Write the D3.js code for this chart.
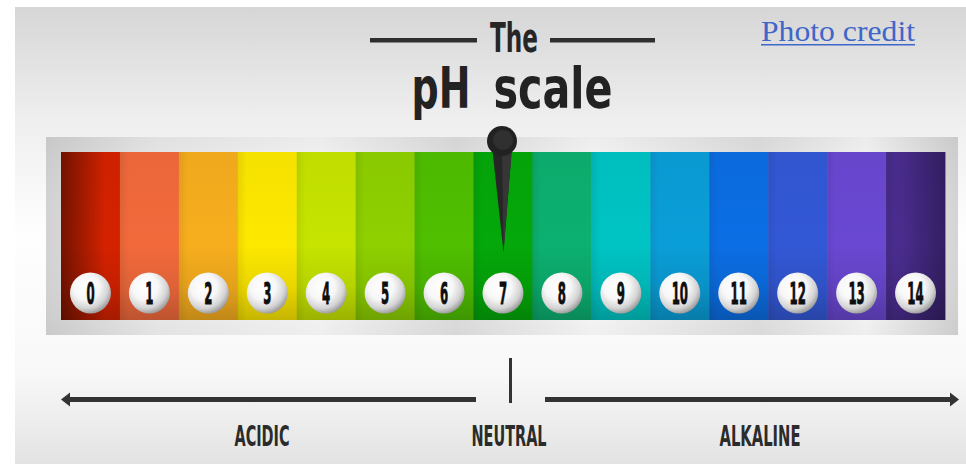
<!DOCTYPE html>
<html><head><meta charset="utf-8">
<script src="https://cdn.jsdelivr.net/npm/d3@7"></script>
<style>html,body{margin:0;padding:0;background:#fff;overflow:hidden}</style>
</head><body>
<svg id="c" width="966" height="464"></svg>
<script>
const phValues = [0,1,2,3,4,5,6,7,8,9,10,11,12,13,14];
const bandColors = ["#d42200","#f26a3c","#f7ae1e","#fde800","#c6e400","#8ed000","#4fbf00","#04a80a","#0cb070","#00c4c4","#0a9ed8","#0b6ee4","#3358d6","#6a48d2","#4a2c8e"];
const neutralValue = 7;
const titleTop = "The";
const titleMain = ["pH","scale"];
const zoneLabels = ["ACIDIC","NEUTRAL","ALKALINE"];
const creditText = "Photo credit";

const svg = d3.select("#c");
const defs = svg.append("defs");
const cond = "'DejaVu Sans', sans-serif";

const bg = defs.append("linearGradient").attr("id","bg").attr("x1",0).attr("y1",0).attr("x2",0).attr("y2",1);
[[0,"#d6d6d6"],[0.25,"#efefef"],[0.5,"#fefefe"],[0.8,"#f8f8f8"],[1,"#e3e3e3"]].forEach(s=>bg.append("stop").attr("offset",s[0]).attr("stop-color",s[1]));
svg.append("rect").attr("x",15).attr("y",7).attr("width",951).attr("height",457).attr("fill","url(#bg)");

const fr = defs.append("linearGradient").attr("id","fr").attr("x1",0).attr("y1",0).attr("x2",1).attr("y2",0);
[[0,"#d2d2d2"],[0.12,"#ececec"],[0.3,"#f8f8f8"],[0.45,"#e0e0e0"],[0.6,"#fafafa"],[0.78,"#e2e2e2"],[0.9,"#f8f8f8"],[1,"#d4d4d4"]].forEach(s=>fr.append("stop").attr("offset",s[0]).attr("stop-color",s[1]));
const frv = defs.append("linearGradient").attr("id","frv").attr("x1",0).attr("y1",0).attr("x2",0).attr("y2",1);
[[0,"rgba(0,0,0,0.05)"],[0.5,"rgba(255,255,255,0)"],[1,"rgba(0,0,0,0.04)"]].forEach(s=>frv.append("stop").attr("offset",s[0]).attr("stop-color",s[1]));

const frame = {x0:46,x1:958,y0:137,y1:335};
const inner = {x0:61,x1:945,y0:152,y1:320};
svg.append("rect").attr("x",frame.x0).attr("y",frame.y0).attr("width",frame.x1-frame.x0).attr("height",frame.y1-frame.y0).attr("fill","url(#fr)");
svg.append("rect").attr("x",frame.x0).attr("y",frame.y0).attr("width",frame.x1-frame.x0).attr("height",frame.y1-frame.y0).attr("fill","url(#frv)");

const x = d3.scaleBand().domain(phValues).range([inner.x0, inner.x1]).padding(0);
const color = d3.scaleOrdinal().domain(phValues).range(bandColors);

svg.append("g").selectAll("rect").data(phValues).join("rect")
  .attr("x",d=>x(d)).attr("y",inner.y0).attr("width",x.bandwidth()+0.5).attr("height",inner.y1-inner.y0)
  .attr("fill",d=>color(d));

const bs = defs.append("linearGradient").attr("id","bs").attr("x1",0).attr("y1",0).attr("x2",1).attr("y2",0);
[[0,"rgba(0,0,0,0.07)"],[0.15,"rgba(0,0,0,0)"],[1,"rgba(0,0,0,0)"]].forEach(s=>bs.append("stop").attr("offset",s[0]).attr("stop-color",s[1]));
svg.append("g").selectAll("rect").data(phValues.slice(1)).join("rect")
  .attr("x",d=>x(d)).attr("y",inner.y0).attr("width",x.bandwidth()).attr("height",inner.y1-inner.y0)
  .attr("fill","url(#bs)");

const vd = defs.append("linearGradient").attr("id","vd").attr("x1",0).attr("y1",0).attr("x2",0).attr("y2",1);
[[0,"rgba(0,0,0,0.03)"],[0.55,"rgba(0,0,0,0)"],[0.8,"rgba(0,0,0,0.08)"],[1,"rgba(0,0,0,0.22)"]].forEach(s=>vd.append("stop").attr("offset",s[0]).attr("stop-color",s[1]));
svg.append("rect").attr("x",inner.x0).attr("y",inner.y0).attr("width",inner.x1-inner.x0).attr("height",inner.y1-inner.y0).attr("fill","url(#vd)");
const hd = defs.append("linearGradient").attr("id","hd").attr("x1",0).attr("y1",0).attr("x2",1).attr("y2",0);
[[0,"rgba(0,0,0,0.45)"],[0.05,"rgba(0,0,0,0)"],[0.95,"rgba(0,0,0,0)"],[1,"rgba(0,0,0,0.3)"]].forEach(s=>hd.append("stop").attr("offset",s[0]).attr("stop-color",s[1]));
svg.append("rect").attr("x",inner.x0).attr("y",inner.y0).attr("width",inner.x1-inner.x0).attr("height",inner.y1-inner.y0).attr("fill","url(#hd)");

const cg = defs.append("radialGradient").attr("id","cg").attr("cx",0.4).attr("cy",0.35).attr("r",0.7);
[[0,"#ffffff"],[0.45,"#f7f7f7"],[0.75,"#d4d4d4"],[1,"#8e8e8e"]].forEach(s=>cg.append("stop").attr("offset",s[0]).attr("stop-color",s[1]));
const cy = 293, cr = 20.5;
const nums = svg.append("g").selectAll("g").data(phValues).join("g")
  .attr("transform",d=>`translate(${x(d)+x.bandwidth()/2},${cy})`);
nums.append("circle").attr("r",cr).attr("fill","url(#cg)");
nums.append("text").text(d=>d)
  .attr("transform","scale(0.42,1.1)")
  .attr("y",9.8).attr("text-anchor","middle")
  .attr("font-family",cond).attr("font-weight","bold").attr("font-size",28).attr("fill","#0e0e0e")
  .attr("stroke","#0e0e0e").attr("stroke-width",0.8);

const nx = x(neutralValue)+x.bandwidth()/2;
svg.append("path").attr("d",`M${nx-11},146 L${nx+9},146 L${nx+0.5},252 Z`).attr("fill","#262626");
svg.append("path").attr("d",`M${nx-1},148 L${nx+9},148 L${nx+0.5},252 Z`).attr("fill","#363636");
svg.append("circle").attr("cx",nx-1).attr("cy",141).attr("r",15).attr("fill","#222");
svg.append("circle").attr("cx",nx).attr("cy",140).attr("r",10).attr("fill","#303030");

const lineCol = "#2e2e2e";
svg.append("rect").attr("x",370).attr("y",38).attr("width",107).attr("height",4.5).attr("fill",lineCol);
svg.append("rect").attr("x",550).attr("y",38).attr("width",105).attr("height",4.5).attr("fill",lineCol);

function ctext(t, cx, base, size, width, col, sy){
  const g = svg.append("g").attr("transform",`translate(${cx},${base}) scale(1,${sy||1})`);
  g.append("text").text(t).attr("x",0).attr("y",0).attr("text-anchor","middle")
    .attr("font-family",cond).attr("font-weight","bold").attr("font-size",size)
    .attr("textLength",width).attr("lengthAdjust","spacingAndGlyphs").attr("fill",col);
}
ctext(titleTop, 514, 52, 34, 48, "#262626", 1.2);
ctext(titleMain[0], 441, 108, 46, 59, "#222", 1.24);
ctext(titleMain[1], 553, 108, 46, 119, "#222", 1.24);

const ay = 399.5;
svg.append("rect").attr("x",68).attr("y",ay-2.5).attr("width",408).attr("height",5).attr("fill","#333");
svg.append("path").attr("d",`M61,${ay} L70,${ay-7} L70,${ay+7} Z`).attr("fill","#333");
svg.append("rect").attr("x",545).attr("y",ay-2.5).attr("width",407).attr("height",5).attr("fill","#333");
svg.append("path").attr("d",`M959,${ay} L950,${ay-7} L950,${ay+7} Z`).attr("fill","#333");
svg.append("rect").attr("x",509).attr("y",358).attr("width",3).attr("height",45).attr("fill","#333");

const labelPos = [[262,55],[509,75],[760,81]];
zoneLabels.forEach((l,i)=>ctext(l, labelPos[i][0], 446, 25, labelPos[i][1], "#2b2b2b", 1.15));

svg.append("text").text(creditText).attr("x",761).attr("y",41)
  .attr("font-family","'Liberation Serif', serif").attr("font-size",30).attr("fill","#3f66c9")
  .attr("textLength",154).attr("lengthAdjust","spacingAndGlyphs");
svg.append("rect").attr("x",761).attr("y",44).attr("width",154).attr("height",1.5).attr("fill","#3f66c9");
</script>
</body></html>
